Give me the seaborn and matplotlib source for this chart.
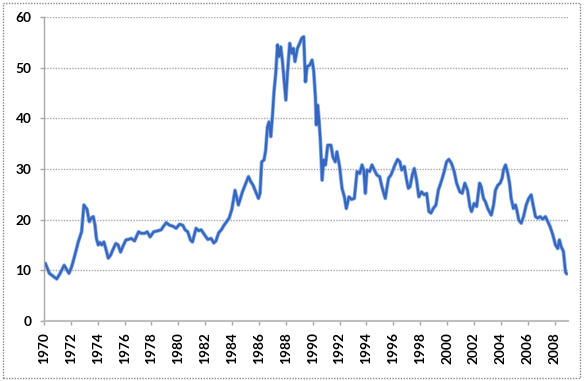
import matplotlib
matplotlib.use("Agg")
import matplotlib.pyplot as plt
import matplotlib.patheffects as pe
import seaborn as sns
import pandas as pd

# valores (ano decimal, indice)
anos = [1970.0, 1970.1, 1970.4, 1970.7, 1970.95, 1971.2, 1971.5, 1971.7, 1971.86, 1972.06,
        1972.3, 1972.55, 1972.8, 1972.97, 1973.1, 1973.2, 1973.37, 1973.55, 1973.67, 1973.8,
        1973.9, 1974.04, 1974.16, 1974.3, 1974.46, 1974.6, 1974.78, 1974.96, 1975.15, 1975.35,
        1975.52, 1975.7, 1975.9, 1976.1, 1976.3, 1976.5, 1976.74, 1977.04, 1977.23, 1977.49,
        1977.68, 1977.9, 1978.16, 1978.48, 1978.72, 1978.9, 1979.1, 1979.35, 1979.6, 1979.84,
        1980.09, 1980.33, 1980.5, 1980.7, 1980.9, 1981.05, 1981.32, 1981.52, 1981.7, 1981.95,
        1982.19, 1982.44, 1982.64, 1982.8, 1983.0, 1983.2, 1983.4, 1983.78, 1983.98, 1984.22,
        1984.33, 1984.47, 1984.77, 1985.02, 1985.22, 1985.39, 1985.56, 1985.76, 1985.96, 1986.08,
        1986.2, 1986.38, 1986.5, 1986.63, 1986.75, 1986.88, 1987.0, 1987.12, 1987.25, 1987.38,
        1987.5, 1987.62, 1987.75, 1987.87, 1988.0, 1988.12, 1988.29, 1988.44, 1988.56, 1988.68,
        1988.86, 1989.03, 1989.18, 1989.33, 1989.46, 1989.58, 1989.78, 1989.95, 1990.07, 1990.2,
        1990.27, 1990.37, 1990.47, 1990.57, 1990.7, 1990.82, 1990.95, 1991.12, 1991.36, 1991.5,
        1991.68, 1991.8, 1992.0, 1992.18, 1992.36, 1992.5, 1992.7, 1992.9, 1993.1, 1993.3,
        1993.5, 1993.67, 1993.8, 1993.92, 1994.04, 1994.24, 1994.41, 1994.59, 1994.78, 1994.98,
        1995.15, 1995.4, 1995.52, 1995.65, 1995.82, 1996.12, 1996.32, 1996.49, 1996.62, 1996.82,
        1996.99, 1997.12, 1997.24, 1997.41, 1997.56, 1997.73, 1997.9, 1998.1, 1998.3, 1998.48,
        1998.65, 1998.8, 1998.97, 1999.17, 1999.35, 1999.6, 1999.79, 1999.96, 2000.13, 2000.33,
        2000.53, 2000.71, 2000.95, 2001.13, 2001.32, 2001.52, 2001.7, 2001.82, 2002.02, 2002.2,
        2002.42, 2002.54, 2002.71, 2002.86, 2003.03, 2003.29, 2003.46, 2003.6, 2003.78, 2003.95,
        2004.1, 2004.2, 2004.35, 2004.52, 2004.65, 2004.77, 2004.94, 2005.09, 2005.19, 2005.34,
        2005.52, 2005.69, 2005.89, 2006.08, 2006.26, 2006.38, 2006.58, 2006.75, 2006.93, 2007.12,
        2007.32, 2007.5, 2007.67, 2007.87, 2008.07, 2008.24, 2008.36, 2008.49, 2008.66, 2008.81,
        2008.9]
indice = [11.0, 11.4, 9.4, 8.8, 8.3, 9.4, 11.0, 10.1, 9.4, 10.7,
          13.0, 15.6, 17.6, 22.9, 22.4, 22.1, 19.6, 20.4, 20.6, 18.9,
          16.3, 15.0, 15.5, 15.0, 15.6, 14.3, 12.4, 13.0, 14.2, 15.3,
          15.0, 13.6, 14.9, 16.0, 16.1, 16.3, 15.8, 17.6, 17.3, 17.3,
          17.6, 16.6, 17.6, 17.8, 18.0, 18.7, 19.4, 18.9, 18.7, 18.3,
          19.1, 18.9, 18.0, 17.6, 16.0, 15.6, 18.3, 17.8, 18.0, 17.0,
          16.1, 16.3, 15.4, 15.8, 17.4, 18.0, 18.9, 20.3, 22.0, 25.8,
          24.5, 22.9, 25.5, 27.2, 28.5, 27.5, 26.8, 25.5, 24.2, 25.2,
          31.4, 31.8, 33.7, 38.3, 39.3, 36.4, 40.3, 45.3, 48.9, 54.5,
          52.2, 54.1, 51.2, 47.6, 43.6, 48.9, 54.8, 52.8, 53.8, 51.2,
          53.8, 54.8, 55.8, 56.1, 47.2, 50.2, 50.5, 51.5, 49.5, 44.3,
          38.7, 42.6, 39.7, 35.7, 27.8, 31.8, 30.8, 34.7, 34.7, 32.4,
          31.4, 33.4, 30.5, 26.2, 24.5, 22.2, 24.5, 24.0, 24.2, 29.5,
          29.1, 30.8, 29.8, 25.2, 29.8, 29.5, 30.8, 29.8, 28.8, 28.5,
          26.5, 24.2, 26.2, 28.2, 28.8, 30.8, 31.9, 31.4, 29.8, 30.5,
          27.8, 26.2, 26.5, 28.8, 30.1, 27.8, 24.5, 25.5, 24.9, 25.2,
          21.6, 21.3, 22.2, 22.9, 25.8, 27.8, 29.5, 31.4, 31.9, 31.1,
          29.5, 27.2, 25.5, 25.2, 27.2, 25.8, 22.6, 21.6, 23.2, 22.6,
          27.2, 26.5, 24.2, 23.5, 22.2, 20.9, 22.9, 25.8, 26.8, 27.2,
          28.2, 29.8, 30.8, 29.1, 27.2, 24.2, 22.2, 22.9, 21.9, 19.9,
          19.3, 20.6, 22.9, 24.2, 24.9, 23.2, 20.6, 20.3, 20.6, 20.1,
          20.6, 19.6, 18.6, 17.0, 15.0, 14.3, 16.0, 14.7, 13.7, 9.7,
          9.3]
anos_ticks = list(range(1970, 2009, 2))
y_ticks = [0, 10, 20, 30, 40, 50, 60]

dados = pd.DataFrame({'Ano': anos, 'Indice': indice})

sns.set_style("white")
plt.rcParams['font.family'] = ['Lato', 'DejaVu Sans']

fig = plt.figure(figsize=(5.84, 3.81), dpi=100)
ax = fig.add_axes([0.0753, 0.1575, 0.8973, 0.7979])

sns.lineplot(data=dados, x='Ano', y='Indice', ax=ax, color='#3566c0',
             linewidth=1.7, estimator=None,
             path_effects=[pe.Stroke(linewidth=2.8, foreground='#93b4e6'), pe.Normal()])

ax.set_xlim(1970, 2009)
ax.set_ylim(0, 60)
ax.set_xticks(anos_ticks)
ax.set_xticklabels([str(a) for a in anos_ticks], rotation=90)
ax.set_yticks(y_ticks)
ax.set_xlabel('')
ax.set_ylabel('')

grid_cor = '#a8a8a8'
for v in y_ticks[1:]:
    ax.axhline(v, color=grid_cor, linestyle=(0, (1, 1)), linewidth=1, zorder=0)

for lado in ['top', 'right']:
    ax.spines[lado].set_visible(False)
ax.spines['left'].set_color(grid_cor)
ax.spines['left'].set_linestyle((0, (1, 1)))
ax.spines['left'].set_linewidth(1)
ax.spines['bottom'].set_color('#bfbfbf')
ax.spines['bottom'].set_linewidth(1.5)

ax.tick_params(axis='both', length=3, width=1, color=grid_cor, labelsize=9.8,
               labelcolor='black', direction='out', left=True, bottom=True)
ax.tick_params(axis='y', pad=6)
ax.tick_params(axis='x', pad=5)
for lbl in ax.get_xticklabels() + ax.get_yticklabels():
    lbl.set_fontweight('bold')

# moldura pontilhada da area do grafico
fig.patches.append(plt.Rectangle((0.005, 0.008), 0.988, 0.984, transform=fig.transFigure,
                                 fill=False, edgecolor='#8c8c8c', linestyle=(0, (1, 1)),
                                 linewidth=1))

fig.savefig('out.png', dpi=100)
